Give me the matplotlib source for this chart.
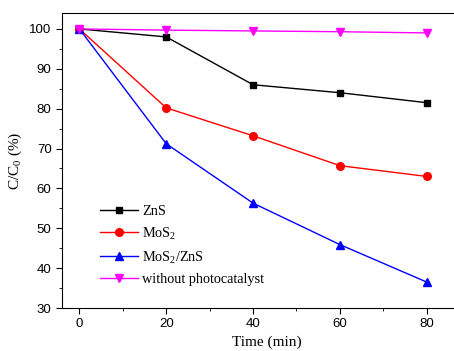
import matplotlib.pyplot as plt
from matplotlib.ticker import MultipleLocator

# time points (min)
time_min = [0, 20, 40, 60, 80]

# C/C0 (%) for each sample
zns = [100, 98.0, 86.0, 84.0, 81.5]
mos2 = [100, 80.2, 73.2, 65.7, 63.0]
mos2_zns = [100, 71.2, 56.3, 45.9, 36.5]
no_catalyst = [100, 99.7, 99.5, 99.3, 99.0]

serif = 'Liberation Serif'
sans = 'Liberation Sans'

plt.rcParams['mathtext.fontset'] = 'custom'
plt.rcParams['mathtext.rm'] = serif
plt.rcParams['mathtext.it'] = serif

fig = plt.figure(figsize=(4.54, 3.51), dpi=100)
ax = fig.add_axes([0.1366, 0.1225, 0.9, 0.8405])

ax.plot(time_min, zns, color='black', marker='s', markersize=5, lw=1, label='ZnS')
ax.plot(time_min, mos2, color='red', marker='o', markersize=5.5, lw=1, label='MoS$_2$')
ax.plot(time_min, mos2_zns, color='blue', marker='^', markersize=6, lw=1, label='MoS$_2$/ZnS')
ax.plot(time_min, no_catalyst, color='magenta', marker='v', markersize=6, lw=1,
        label='without photocatalyst')

ax.set_xlim(-4, 90.1)
ax.set_ylim(30, 104)
ax.xaxis.set_major_locator(MultipleLocator(20))
ax.xaxis.set_minor_locator(MultipleLocator(10))
ax.yaxis.set_major_locator(MultipleLocator(10))
ax.yaxis.set_minor_locator(MultipleLocator(5))
ax.tick_params(which='both', direction='out')
ax.tick_params(which='major', length=4)
ax.tick_params(which='minor', length=2.5)
for lab in ax.get_xticklabels() + ax.get_yticklabels():
    lab.set_fontfamily(sans)
    lab.set_fontsize(9.5)

ax.set_xlabel('Time (min)', fontfamily=serif, fontsize=11, labelpad=3.5)
ax.set_ylabel('C/C$_0$ (%)', fontfamily=serif, fontsize=11)

leg = ax.legend(loc='upper left', bbox_to_anchor=(0.08, 0.37), frameon=False,
                prop={'family': serif, 'size': 10.3}, handlelength=2.6,
                labelspacing=0.55, handletextpad=0.3, borderaxespad=0)

fig.savefig('out.png', dpi=100)
